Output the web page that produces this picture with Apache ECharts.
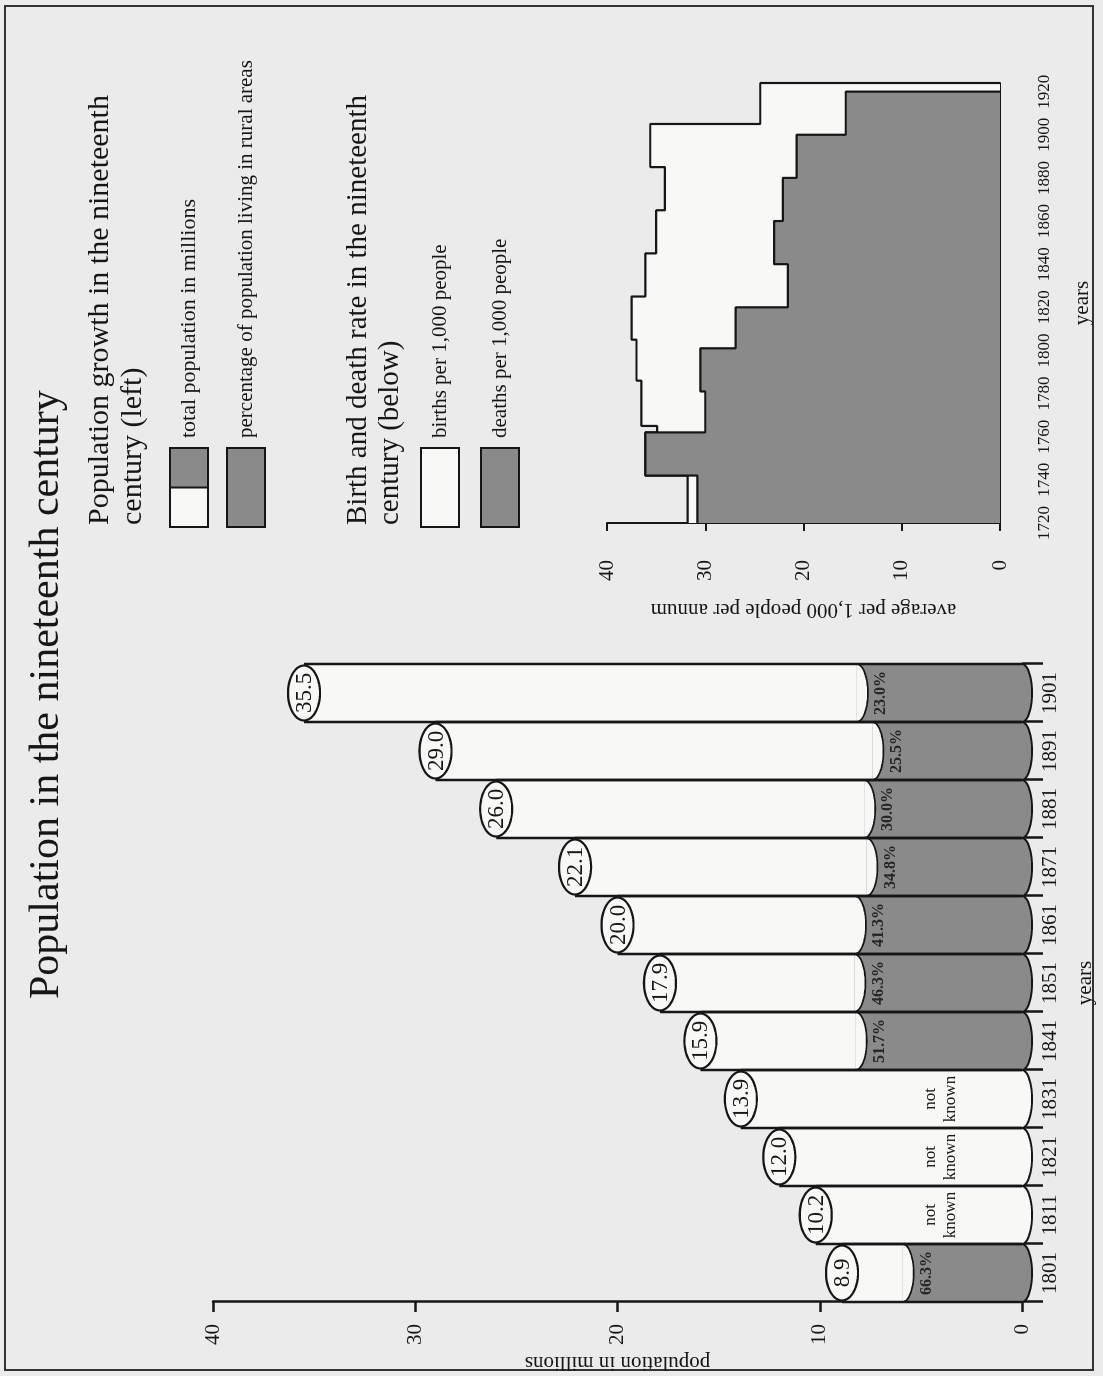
<!DOCTYPE html>
<html>
<head>
<meta charset="utf-8">
<script src="https://cdn.jsdelivr.net/npm/echarts@6/dist/echarts.min.js"></script>
<style>
  html, body { margin: 0; padding: 0; width: 1103px; height: 1376px; overflow: hidden; background: #ebebeb; }
  #chart { position: absolute; left: 0; top: 0; width: 1376px; height: 1103px;
           transform-origin: 0 0; transform: translate(0px, 1376px) rotate(-90deg); }
</style>
</head>
<body>
<div id="chart"></div>
<script>
// ---------- data ----------
const years = ['1801','1811','1821','1831','1841','1851','1861','1871','1881','1891','1901'];
const totalPop = [8.9, 10.2, 12.0, 13.9, 15.9, 17.9, 20.0, 22.1, 26.0, 29.0, 35.5];
const ruralPct = [66.3, null, null, null, 51.7, 46.3, 41.3, 34.8, 30.0, 25.5, 23.0];

const birthYears = [1720, 1742, 1762, 1765, 1786, 1805, 1825, 1845, 1865, 1885, 1905, 1924];
const birthRates = [31.8, 36.1, 34.9, 36.5, 37.0, 37.5, 36.1, 35.0, 34.1, 35.6, 24.4];
const deathYears = [1720, 1742, 1762, 1781, 1801, 1820, 1840, 1860, 1880, 1900, 1920];
const deathRates = [30.8, 36.1, 30.0, 30.5, 26.9, 21.6, 23.0, 22.1, 20.7, 15.7];

// ---------- style ----------
const FONT = '"Liberation Serif", "Times New Roman", serif';
const INK = '#161616';
const WHITE = '#f8f8f6';
const GRAY = '#8a8a8a';
const BG = '#ebebeb';

function stepPoints(xs, vs) {
  const pts = [];
  for (let k = 0; k < vs.length; k++) pts.push([xs[k], vs[k]]);
  pts.push([xs[xs.length - 1], vs[vs.length - 1]]);
  pts.push([xs[xs.length - 1], 0]);
  return pts;
}

function ellipsePts(cx, cy, rx, ry, a0, a1, n) {
  const pts = [];
  for (let k = 0; k <= n; k++) {
    const a = a0 + (a1 - a0) * k / n;
    pts.push([cx + rx * Math.cos(a), cy + ry * Math.sin(a)]);
  }
  return pts;
}

function txt(text, x, y, font, align, valign, extra) {
  return Object.assign({
    text: text, x: x, y: y, font: font, fill: INK,
    align: align, verticalAlign: valign, textAlign: align, textVerticalAlign: valign
  }, extra || {});
}

function renderBar(params, api) {
  const i = params.dataIndex;
  const total = api.value(1);
  const pct = ruralPct[i];
  const base = api.coord([i, 0]);
  const top = api.coord([i, total]);
  const bw = api.size([1, 0])[0];
  const cx = base[0], xl = cx - bw / 2, xr = cx + bw / 2;
  const yb = base[1], yt = top[1];
  const rx = bw / 2;
  const kids = [];
  kids.push({ type: 'rect', z2: 1, shape: { x: xl, y: yt, width: bw, height: yb - yt }, style: { fill: WHITE } });
  let yr = null;
  if (pct != null) {
    yr = api.coord([i, total * pct / 100])[1];
    kids.push({ type: 'rect', z2: 2, shape: { x: xl, y: yr, width: bw, height: yb - yr }, style: { fill: GRAY } });
    const cut = ellipsePts(cx, yr, rx, 11, Math.PI, 0, 28);
    kids.push({ type: 'polygon', z2: 3, shape: { points: cut }, style: { fill: WHITE } });
    kids.push({ type: 'polyline', z2: 4, shape: { points: cut }, style: { stroke: INK, lineWidth: 1.8, fill: 'none' } });
  }
  const bot = ellipsePts(cx, yb, rx, 10, Math.PI, 0, 28);
  kids.push({ type: 'polygon', z2: 3, shape: { points: bot }, style: { fill: pct != null ? GRAY : WHITE } });
  kids.push({ type: 'polyline', z2: 4, shape: { points: bot }, style: { stroke: INK, lineWidth: 2, fill: 'none' } });
  kids.push({ type: 'line', z2: 5, shape: { x1: xl, y1: yt, x2: xl, y2: yb }, style: { stroke: INK, lineWidth: 2.5 } });
  kids.push({ type: 'line', z2: 5, shape: { x1: xr, y1: yt, x2: xr, y2: yb }, style: { stroke: INK, lineWidth: 2.5 } });
  const topE = ellipsePts(cx, yt, rx - 1.5, 16, 0, 2 * Math.PI, 56);
  kids.push({ type: 'polygon', z2: 6, shape: { points: topE }, style: { fill: WHITE, stroke: INK, lineWidth: 2.2 } });
  kids.push({ type: 'text', z2: 7, style: txt(total.toFixed(1), cx, yt + 1, '23px ' + FONT, 'center', 'middle') });
  if (pct != null) {
    kids.push({ type: 'text', z2: 7, style: txt(pct.toFixed(1) + '%', cx, yr + 24, 'bold 16px ' + FONT, 'center', 'middle', { fill: '#262626' }) });
  } else {
    kids.push({ type: 'text', z2: 7, style: txt('not\nknown', cx, yb - 81, '17px ' + FONT, 'center', 'middle', { lineHeight: 20 }) });
  }
  return { type: 'group', children: kids };
}

function swatch(x, y, w, h, mode) {
  const els = [];
  if (mode === 'split') {
    els.push({ type: 'rect', shape: { x: x, y: y, width: w / 2, height: h }, style: { fill: WHITE } });
    els.push({ type: 'rect', shape: { x: x + w / 2, y: y, width: w / 2, height: h }, style: { fill: GRAY } });
    els.push({ type: 'line', shape: { x1: x + w / 2, y1: y, x2: x + w / 2, y2: y + h }, style: { stroke: INK, lineWidth: 2 } });
  }
  els.push({ type: 'rect', shape: { x: x, y: y, width: w, height: h },
    style: { fill: mode === 'white' ? WHITE : (mode === 'gray' ? GRAY : 'none'), stroke: INK, lineWidth: 2 } });
  return els;
}

const graphicEls = [
  { type: 'rect', shape: { x: 6, y: 5, width: 1364, height: 1088 }, style: { fill: 'none', stroke: '#333', lineWidth: 2 } },
  { type: 'text', style: txt('Population in the nineteenth century', 377, 47, '42px ' + FONT, 'left', 'middle') },
  { type: 'text', style: txt('Population growth in the nineteenth', 851, 100, '30px ' + FONT, 'left', 'middle') },
  { type: 'text', style: txt('century (left)', 851, 133, '30px ' + FONT, 'left', 'middle') },
  ...swatch(849, 170, 79, 38, 'split'),
  { type: 'text', style: txt('total population in millions', 938, 189, '22px ' + FONT, 'left', 'middle') },
  ...swatch(849, 227, 79, 38, 'gray'),
  { type: 'text', style: txt('percentage of population living in rural areas', 938, 246, '21px ' + FONT, 'left', 'middle') },
  { type: 'text', style: txt('Birth and death rate in the nineteenth', 851, 358, '29px ' + FONT, 'left', 'middle') },
  { type: 'text', style: txt('century (below)', 851, 390, '29px ' + FONT, 'left', 'middle') },
  ...swatch(849, 421, 79, 38, 'white'),
  { type: 'text', style: txt('births per 1,000 people', 938, 440, '21px ' + FONT, 'left', 'middle') },
  ...swatch(849, 481, 79, 38, 'gray'),
  { type: 'text', style: txt('deaths per 1,000 people', 938, 500, '21px ' + FONT, 'left', 'middle') }
];

const axisText = { fontFamily: FONT, fontSize: 21, color: INK };

const option = {
  backgroundColor: BG,
  animation: false,
  textStyle: { fontFamily: FONT, color: INK },
  grid: [
    { left: 74, top: 213, width: 638, height: 809 },
    { left: 853, top: 607, width: 440, height: 393 }
  ],
  xAxis: [
    {
      gridIndex: 0, type: 'category', data: years,
      axisLine: { show: false },
      axisTick: { show: true, interval: 0, length: 21, lineStyle: { color: INK, width: 2.5 } },
      axisLabel: Object.assign({ margin: 18, interval: 0 }, axisText),
      name: 'years', nameLocation: 'middle', nameGap: 53, nameTextStyle: axisText
    },
    {
      gridIndex: 1, type: 'value', min: 1720, max: 1924, interval: 20,
      axisLine: { show: true, onZero: false, lineStyle: { color: INK, width: 2 } },
      axisTick: { show: false }, splitLine: { show: false },
      axisLabel: Object.assign({}, axisText, { fontSize: 17, margin: 36, formatter: function (v) { return v % 20 === 0 ? String(v) : ''; } }),
      name: 'years', nameLocation: 'middle', nameGap: 72, nameTextStyle: axisText
    }
  ],
  yAxis: [
    {
      gridIndex: 0, type: 'value', min: 0, max: 40, interval: 10,
      axisLine: { show: true, lineStyle: { color: INK, width: 2.5 } },
      axisTick: { show: true, length: 10, lineStyle: { color: INK, width: 2.5 } },
      splitLine: { show: false },
      axisLabel: Object.assign({ margin: 22 }, axisText),
      name: 'population in millions', nameLocation: 'middle', nameGap: 50, nameTextStyle: axisText
    },
    {
      gridIndex: 1, type: 'value', min: 0, max: 40, interval: 10,
      axisLine: { show: true, lineStyle: { color: INK, width: 2 } },
      axisTick: { show: true, length: 8, lineStyle: { color: INK, width: 2 } },
      splitLine: { show: false },
      axisLabel: Object.assign({ margin: 37 }, axisText),
      name: 'average per 1,000 people per annum', nameLocation: 'middle', nameGap: 76, nameTextStyle: axisText
    }
  ],
  series: [
    {
      type: 'custom', xAxisIndex: 0, yAxisIndex: 0,
      renderItem: renderBar,
      encode: { x: 0, y: 1 },
      data: years.map(function (y, i) { return [i, totalPop[i]]; }),
      z: 2
    },
    {
      name: 'births', type: 'line', xAxisIndex: 1, yAxisIndex: 1, step: 'end',
      symbol: 'none', data: stepPoints(birthYears, birthRates),
      lineStyle: { color: INK, width: 2.2 }, areaStyle: { color: WHITE, opacity: 1 }, z: 2
    },
    {
      name: 'deaths', type: 'line', xAxisIndex: 1, yAxisIndex: 1, step: 'end',
      symbol: 'none', data: stepPoints(deathYears, deathRates),
      lineStyle: { color: INK, width: 2.2 }, areaStyle: { color: GRAY, opacity: 1 }, z: 3
    }
  ],
  graphic: { elements: graphicEls }
};

const chart = echarts.init(document.getElementById('chart'), null, { width: 1376, height: 1103 });
chart.setOption(option);
</script>
</body>
</html>
